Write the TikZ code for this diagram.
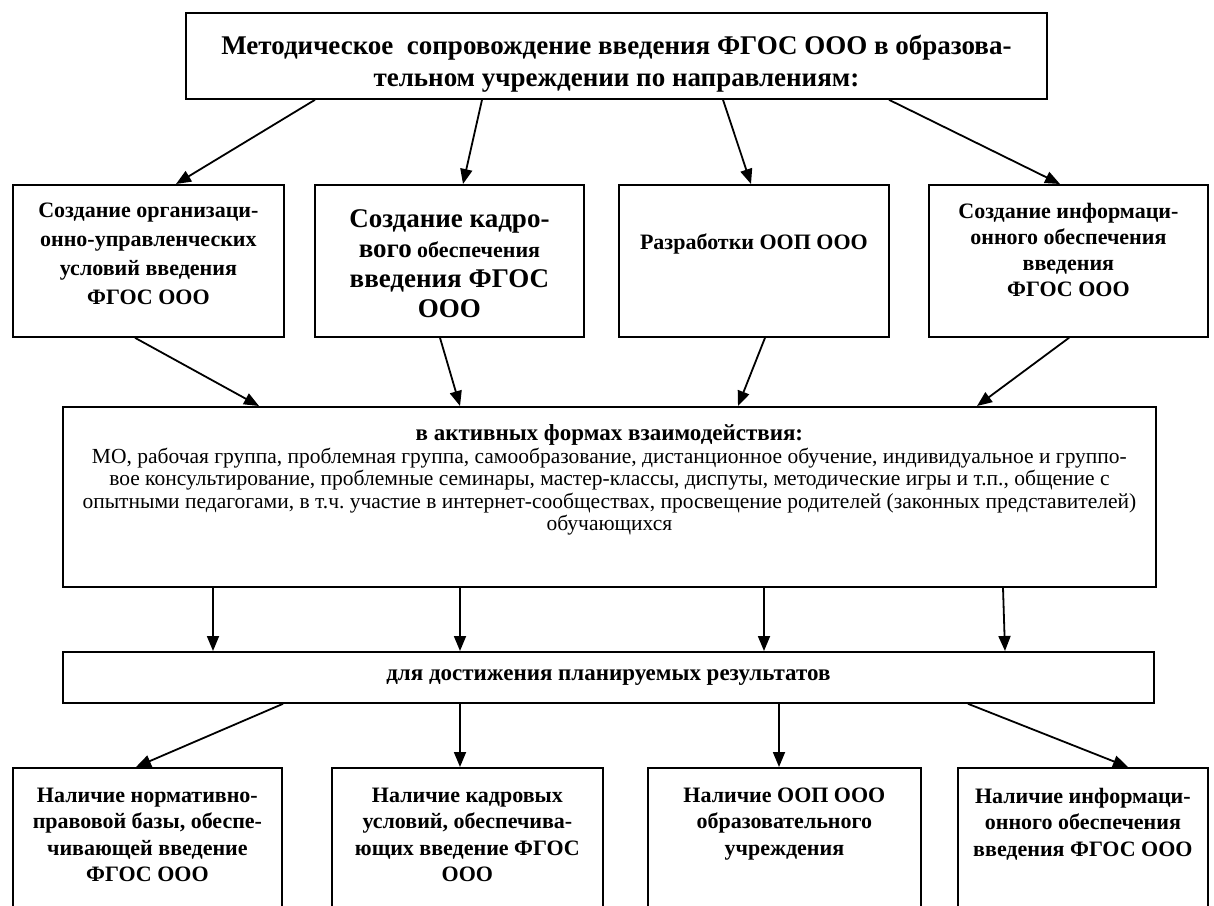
\documentclass[tikz,border=0pt]{standalone}
\usepackage{fontspec}
\setmainfont{Liberation Serif}
\usetikzlibrary{arrows.meta}

\newcommand{\btext}[4]{\parbox[c][#2pt][t]{#1pt}{\centering\vspace*{#3pt}#4}}
\newcommand{\fs}[2]{\fontsize{#1}{#2}\selectfont}
\frenchspacing

\begin{document}
\begin{tikzpicture}[x=1pt, y=-1pt, line width=1.8pt, >={Triangle[length=15pt,width=12pt]}]
       \tikzset{box/.style={draw, inner sep=0pt, anchor=north west}}
       \tikzset{head/.style={font=\bfseries\fs{27}{32}}}
       \tikzset{topic/.style={font=\bfseries\fs{22}{29}}}
       \tikzset{result/.style={font=\bfseries\fs{23}{26}}}

        \useasboundingbox (0,0) rectangle (1214,905);
        \clip (0,0) rectangle (1214,905);

        \node[box, head] (top) at (185,12) {\btext{861}{86}{22}{Методическое\ \ сопровождение введения ФГОС ООО в образова-\\тельном учреждении по направлениям:}};

        \node[box, topic] (org) at (12,184) {\btext{271}{152}{18}{Создание организаци-\\онно-управленческих\\условий введения\\ФГОС ООО}};
        \node[box, topic] (staff) at (314,184) {\btext{269}{152}{25}{\fs{22}{30}{\fs{27}{30}Создание кадро-}\\{\fs{27}{30}вого} обеспечения\\{\fs{27}{30}введения ФГОС}\\{\fs{27}{30}ООО}}};
        \node[box, topic] (plan) at (618,184) {\btext{270}{152}{49}{Разработки ООП ООО}};
        \node[box, topic] (info) at (928,184) {\btext{279}{152}{18}{\fs{22}{26}Создание информаци-\\онного обеспечения\\введения\\ФГОС ООО}};

        \node[box] (forms) at (62,406) {\btext{1093}{180}{18}{\fs{21.5}{22.5}{\bfseries\fs{23}{22.5}в активных формах взаимодействия:}\\МО, рабочая группа, проблемная группа, самообразование, дистанционное обучение, индивидуальное и группо-\\вое консультирование, проблемные семинары, мастер-классы, диспуты, методические игры и т.п., общение с\\опытными педагогами, в т.ч. участие в интернет-сообществах, просвещение родителей (законных представителей)\\обучающихся}};

        \node[box, result, minimum width=1091pt, minimum height=51pt] (goal) at (62,651) {для достижения планируемых результатов};

        \node[box, topic] (normres) at (12,767) {\btext{269}{160}{20}{\fs{22}{26.5}Наличие нормативно-\\правовой базы, обеспе-\\чивающей введение\\ФГОС ООО}};
        \node[box, topic] (staffres) at (331,767) {\btext{271}{160}{20}{\fs{22}{26.5}Наличие кадровых\\условий, обеспечива-\\ющих введение ФГОС\\ООО}};
        \node[box, topic] (planres) at (647,767) {\btext{273}{160}{20}{\fs{22}{26.5}Наличие ООП ООО\\образовательного\\учреждения}};
        \node[box, topic] (infores) at (957,767) {\btext{250}{160}{20}{\fs{22}{26.5}Наличие информаци-\\онного обеспечения\\введения ФГОС ООО}};

        \draw[->]([xshift=130pt]top.south west) -- ([xshift=164pt]org.north west);
        \draw[->]([xshift=297pt]top.south west) -- ([xshift=149pt]staff.north west);
        \draw[->]([xshift=538pt]top.south west) -- ([xshift=133pt]plan.north west);
        \draw[->]([xshift=704pt]top.south west) -- ([xshift=132pt]info.north west);

        \draw[->]([xshift=123pt]org.south west) -- ([xshift=197pt]forms.north west);
        \draw[->]([xshift=126pt]staff.south west) -- ([xshift=398pt]forms.north west);
        \draw[->]([xshift=147pt]plan.south west) -- ([xshift=676pt]forms.north west);
        \draw[->]([xshift=141pt]info.south west) -- ([xshift=915pt]forms.north west);

        \draw[->]([xshift=151pt]forms.south west) -- ([xshift=151pt]goal.north west);
        \draw[->]([xshift=398pt]forms.south west) -- ([xshift=398pt]goal.north west);
        \draw[->]([xshift=702pt]forms.south west) -- ([xshift=702pt]goal.north west);
        \draw[->]([xshift=941pt]forms.south west) -- ([xshift=943pt]goal.north west);

        \draw[->]([xshift=221pt]goal.south west) -- ([xshift=124pt]normres.north west);
        \draw[->]([xshift=398pt]goal.south west) -- ([xshift=129pt]staffres.north west);
        \draw[->]([xshift=717pt]goal.south west) -- ([xshift=132pt]planres.north west);
        \draw[->]([xshift=906pt]goal.south west) -- ([xshift=171pt]infores.north west);

   \end{tikzpicture}
\end{document}
